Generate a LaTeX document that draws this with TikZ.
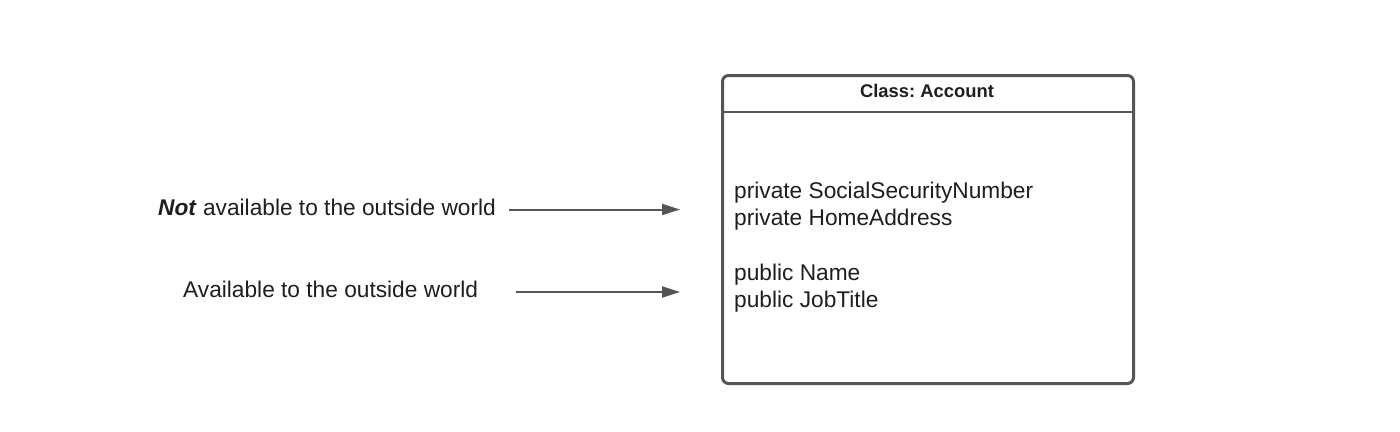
\documentclass[tikz,border=0pt]{standalone}
\usepackage{fontspec}
\setmainfont{Liberation Sans}
\usetikzlibrary{arrows.meta}
\frenchspacing
\definecolor{edge}{HTML}{555555}
\definecolor{ink}{HTML}{1E1E1E}
\tikzset{
  classbox/.style={draw=edge, line width=3pt, rounded corners=6pt, fill=white},
  divider/.style={draw=edge, line width=2.5pt},
  bodytext/.style={anchor=base west, inner sep=0pt, text=ink, font=\fontsize{22.7}{27.3}\selectfont},
  titletext/.style={anchor=base, inner sep=0pt, text=ink, font=\bfseries\fontsize{18.4}{22}\selectfont},
  pointer/.style={draw=edge, line width=2pt, -{Triangle[length=18pt,width=11pt]}},
}
\begin{document}
\begin{tikzpicture}[x=1pt,y=-1pt]
\useasboundingbox[fill=white] (0,0) rectangle (1400,431);
% class box
\node[classbox, minimum width=411pt, minimum height=308pt, anchor=north west, inner sep=0pt] (cls) at (721,74) {};
\coordinate (divl) at (721,112);
\coordinate (divr) at (1132,112);
\draw[divider] (divl) -- (divr);
\node[titletext] (title) at (927,97) {Class: Account};
\node[bodytext] (m1) at (734,198) {private SocialSecurityNumber};
\node[bodytext] (m2) at (734,225) {private HomeAddress};
\node[bodytext] (m3) at (734,280) {public Name};
\node[bodytext] (m4) at (734,307) {public JobTitle};
% left labels
\node[bodytext] (notav) at (158,215) {\textbf{\textit{Not}} available to the outside world};
\node[bodytext] (av) at (183,297) {Available to the outside world};
% arrows
\coordinate (a1s) at (509,209.5);
\coordinate (a1e) at (680,209.5);
\coordinate (a2s) at (516,292);
\coordinate (a2e) at (680,292);
\draw[pointer] (a1s) -- (a1e);
\draw[pointer] (a2s) -- (a2e);
\end{tikzpicture}
\end{document}
